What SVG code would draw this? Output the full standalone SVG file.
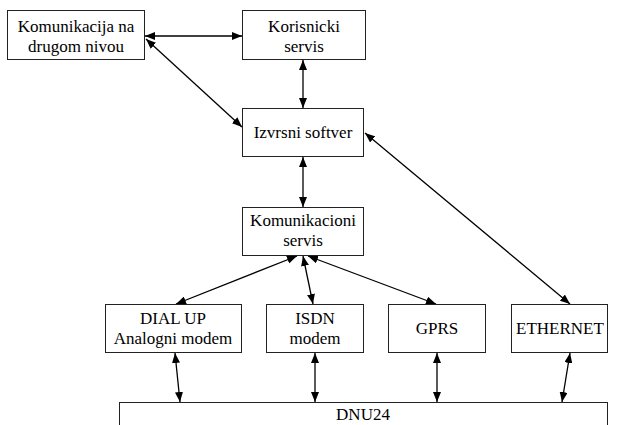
<svg xmlns="http://www.w3.org/2000/svg" width="632" height="425" viewBox="0 0 632 425">
<defs>
<marker id="ah" viewBox="0 0 10 8" refX="10" refY="4" markerWidth="10" markerHeight="8" markerUnits="userSpaceOnUse" orient="auto-start-reverse">
<path d="M0,0 L10,4 L0,8 z" fill="#000"/>
</marker>
</defs>
<style>
.box{fill:#fff;stroke:#222;stroke-width:1}
text{font-family:'Liberation Serif','Times New Roman',serif;font-size:17px;fill:#000;text-anchor:middle}
.c{stroke:#000;stroke-width:1.3;fill:none;marker-start:url(#ah);marker-end:url(#ah)}
</style>
<rect width="632" height="425" fill="#fff"/>
<g id="connectors">
<line class="c" x1="145" y1="36" x2="242" y2="36"/>
<line class="c" x1="146" y1="39" x2="242" y2="127"/>
<line class="c" x1="303" y1="60" x2="303" y2="108"/>
<line class="c" x1="303" y1="157" x2="303" y2="207"/>
<line class="c" x1="365" y1="133" x2="570" y2="304"/>
<line class="c" x1="297" y1="256" x2="176" y2="304"/>
<line class="c" x1="303" y1="256" x2="313" y2="304"/>
<line class="c" x1="308" y1="256" x2="436" y2="304"/>
<line class="c" x1="175" y1="353" x2="180" y2="402"/>
<line class="c" x1="315" y1="353" x2="315" y2="402"/>
<line class="c" x1="437" y1="353" x2="437" y2="402"/>
<line class="c" x1="570" y1="353" x2="562" y2="402"/>
</g>
<g id="n-drugi">
<rect class="box" x="7.5" y="10.5" width="137" height="49"/>
<text x="76" y="32">Komunikacija na</text>
<text x="76" y="52">drugom nivou</text>
</g>
<g id="n-korisnicki">
<rect class="box" x="242.5" y="10.5" width="123" height="49"/>
<text x="304" y="32">Korisnicki</text>
<text x="304" y="52">servis</text>
</g>
<g id="n-izvrsni">
<rect class="box" x="242.5" y="108.5" width="121" height="48"/>
<text x="303" y="138">Izvrsni softver</text>
</g>
<g id="n-komserv">
<rect class="box" x="242.5" y="207.5" width="121" height="48"/>
<text x="303" y="226">Komunikacioni</text>
<text x="303" y="246">servis</text>
</g>
<g id="n-dialup">
<rect class="box" x="105.5" y="304.5" width="136" height="48"/>
<text x="173" y="324">DIAL UP</text>
<text x="173" y="344">Analogni modem</text>
</g>
<g id="n-isdn">
<rect class="box" x="266.5" y="304.5" width="97" height="48"/>
<text x="315" y="324">ISDN</text>
<text x="315" y="344">modem</text>
</g>
<g id="n-gprs">
<rect class="box" x="388.5" y="304.5" width="97" height="48"/>
<text x="437" y="334">GPRS</text>
</g>
<g id="n-ethernet">
<rect class="box" x="511.5" y="304.5" width="96" height="48"/>
<text x="560" y="334">ETHERNET</text>
</g>
<g id="n-dnu24">
<rect class="box" x="119.5" y="402.5" width="488" height="40"/>
<text x="363" y="420">DNU24</text>
</g>
</svg>
